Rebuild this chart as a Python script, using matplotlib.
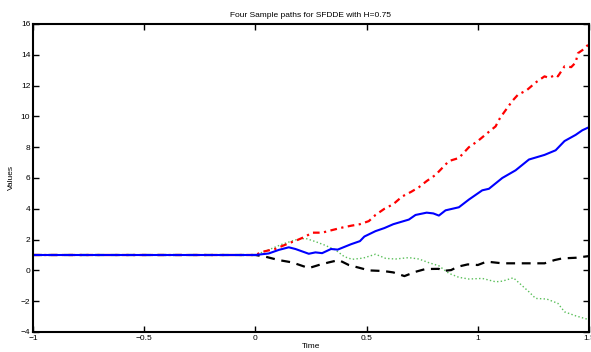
import matplotlib
matplotlib.use("Agg")
import matplotlib.pyplot as plt

# sample paths (time, value)
red_t = [-1, 0, 0.03, 0.09, 0.15, 0.19, 0.225, 0.255, 0.30, 0.34, 0.39, 0.43, 0.47, 0.51,
         0.54, 0.58, 0.62, 0.66, 0.70, 0.735, 0.77, 0.81, 0.85, 0.87, 0.915, 0.96, 1.0,
         1.05, 1.08, 1.10, 1.155, 1.18, 1.22, 1.26, 1.30, 1.32, 1.35, 1.36, 1.39, 1.42,
         1.44, 1.45, 1.47, 1.5]
red_v = [1, 1.0, 1.2, 1.4, 1.76, 1.98, 2.2, 2.45, 2.45, 2.6, 2.78, 2.9, 3.0, 3.2,
         3.6, 4.0, 4.3, 4.8, 5.1, 5.4, 5.8, 6.2, 6.8, 7.1, 7.3, 8.0, 8.4,
         9.0, 9.35, 9.9, 11.0, 11.4, 11.7, 12.2, 12.6, 12.5, 12.7, 12.6, 13.25, 13.2,
         13.5, 14.1, 14.3, 14.7]

blue_t = [-1, 0, 0.06, 0.105, 0.15, 0.18, 0.24, 0.27, 0.30, 0.34, 0.37, 0.43, 0.47, 0.49,
          0.54, 0.58, 0.62, 0.69, 0.72, 0.77, 0.80, 0.825, 0.855, 0.915, 0.96, 1.0, 1.02,
          1.05, 1.11, 1.17, 1.23, 1.30, 1.35, 1.39, 1.44, 1.47, 1.5]
blue_v = [1, 1.0, 1.1, 1.33, 1.5, 1.39, 1.08, 1.17, 1.12, 1.39, 1.35, 1.7, 1.9, 2.2,
          2.55, 2.75, 3.0, 3.3, 3.6, 3.75, 3.7, 3.56, 3.9, 4.1, 4.6, 5.0, 5.2,
          5.3, 6.0, 6.5, 7.2, 7.5, 7.8, 8.4, 8.8, 9.1, 9.3]

green_t = [-1, 0, 0.075, 0.12, 0.18, 0.225, 0.27, 0.31, 0.36, 0.40, 0.435, 0.485, 0.54,
           0.586, 0.63, 0.69, 0.735, 0.78, 0.825, 0.87, 0.915, 0.96, 1.02, 1.08, 1.11,
           1.16, 1.18, 1.23, 1.26, 1.31, 1.36, 1.39, 1.44, 1.5]
green_v = [1, 1.0, 1.43, 1.7, 1.98, 2.08, 1.87, 1.65, 1.33, 0.89, 0.72, 0.8, 1.05,
           0.78, 0.74, 0.83, 0.74, 0.5, 0.3, -0.19, -0.45, -0.56, -0.52, -0.74, -0.7,
           -0.48, -0.74, -1.39, -1.82, -1.86, -2.14, -2.69, -2.95, -3.2]

black_t = [-1, 0, 0.045, 0.105, 0.165, 0.24, 0.285, 0.33, 0.375, 0.42, 0.48, 0.51, 0.575,
           0.62, 0.67, 0.72, 0.765, 0.825, 0.84, 0.88, 0.91, 0.955, 1.0, 1.04, 1.11,
           1.18, 1.30, 1.345, 1.38, 1.44, 1.5]
black_v = [1, 1.0, 0.89, 0.67, 0.52, 0.15, 0.35, 0.52, 0.67, 0.35, 0.12, 0.0, -0.04,
           -0.13, -0.37, -0.09, 0.09, 0.1, -0.04, 0.02, 0.24, 0.39, 0.35, 0.57, 0.46,
           0.46, 0.46, 0.67, 0.78, 0.82, 0.93]

x_ticks = [-1, -0.5, 0, 0.5, 1, 1.5]
x_labels = ["\u22121", "\u22120.5", "0", "0.5", "1", "1.5"]
y_ticks = list(range(-4, 17, 2))
y_labels = [("\u2212%d" % -v) if v < 0 else str(v) for v in y_ticks]

plt.rcParams['font.family'] = ['Liberation Sans', 'DejaVu Sans']

fig = plt.figure(figsize=(5.91, 3.52), dpi=100)
ax = fig.add_axes([33 / 591, 20 / 352, 556 / 591, 308 / 352])

ax.plot(green_t, green_v, ':', color=(0.35, 0.75, 0.35), linewidth=1.0)
ax.plot(black_t, black_v, '--', color='black', linewidth=1.6, dashes=(4, 3))
ax.plot(red_t, red_v, '-.', color='red', linewidth=1.6, dashes=(3, 2, 1, 2))
ax.plot(blue_t, blue_v, '-', color='blue', linewidth=1.5)

ax.set_xlim(-1, 1.5)
ax.set_ylim(-4, 16)
ax.set_xticks(x_ticks)
ax.set_xticklabels(x_labels)
ax.set_yticks(y_ticks)
ax.set_yticklabels(y_labels)
ax.tick_params(direction='in', length=4, width=1, labelsize=6,
               top=True, right=True, pad=2)
for s in ax.spines.values():
    s.set_linewidth(1.5)

ax.set_title("Four Sample paths for SFDDE with H=0.75", fontsize=6, pad=5)
ax.set_xlabel("Time", fontsize=6, labelpad=1)
ax.set_ylabel("Values", fontsize=6, labelpad=4)

fig.savefig("out.png", dpi=100)
